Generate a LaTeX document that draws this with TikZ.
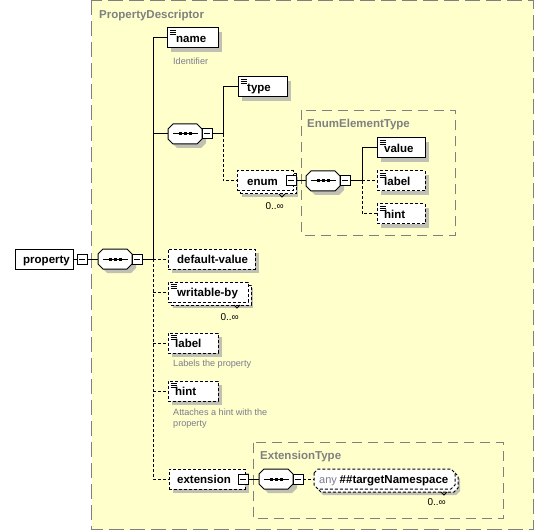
\documentclass[tikz,border=0pt]{standalone}
\usepackage{fontspec}
\setmainfont{Liberation Sans}
\usetikzlibrary{shadows,calc}
\definecolor{bgyel}{HTML}{FFFFCC}
\definecolor{shadowc}{HTML}{C0C0B4}
\definecolor{framec}{HTML}{808080}
\definecolor{notec}{HTML}{7C7C8C}
\tikzset{
  elbox/.style={draw=black, fill=white, line width=1pt, inner sep=0pt, outer sep=0pt, minimum height=20pt, anchor=north west},
  optbox/.style={elbox, dash pattern=on 3pt off 2pt},
  shad/.style={drop shadow={shadow xshift=4pt, shadow yshift=-4pt, fill=shadowc, opacity=1}},
  mshad/.style={drop shadow={shadow xshift=2pt, shadow yshift=-3pt, fill=shadowc, opacity=1}},
  docicon/.style={path picture={\draw[solid, line width=0.9pt]
      ([shift={(2.5pt,-2.5pt)}]path picture bounding box.north west) -- ++(6pt,0pt)
      ([shift={(2.5pt,-4.5pt)}]path picture bounding box.north west) -- ++(6pt,0pt)
      ([shift={(2.5pt,-6.5pt)}]path picture bounding box.north west) -- ++(6pt,0pt);}},
  minusbox/.style={draw=black, fill=white, line width=1pt, minimum size=10pt, inner sep=0pt, outer sep=0pt,
      path picture={\draw[solid, line width=1pt] ([xshift=2pt]path picture bounding box.west) -- ([xshift=-2pt]path picture bounding box.east);}},
  eltext/.style={anchor=base west, inner sep=0pt, font=\fontsize{11.5}{13}\selectfont\bfseries},
  typelabel/.style={anchor=base west, inner sep=0pt, text=framec, font=\fontsize{11.5}{13}\selectfont\bfseries},
  note/.style={anchor=base west, inner sep=0pt, text=notec, font=\fontsize{9.1}{11}\selectfont},
  mult/.style={anchor=base east, inner sep=0pt, font=\fontsize{10}{12}\selectfont},
  conn/.style={draw=black, line width=1pt},
  oconn/.style={conn, dash pattern=on 3pt off 2pt},
  outerframe/.style={draw=framec, line width=1pt, dash pattern=on 15pt off 6pt, fill=bgyel},
  innerframe/.style={draw=framec, line width=1pt, dash pattern=on 10pt off 6pt},
  seqc/.pic={
    \fill[shadowc, shift={(4,4)}] (-17,-5) -- (-12,-10) -- (12,-10) -- (17,-5) -- (17,5) -- (12,10) -- (-12,10) -- (-17,5) -- cycle;
    \filldraw[fill=white, draw=black, line width=1pt] (-17,-5) -- (-12,-10) -- (12,-10) -- (17,-5) -- (17,5) -- (12,10) -- (-12,10) -- (-17,5) -- cycle;
    \draw[line width=1pt] (-12,0) -- (13,0);
    \fill (-6.5,-1.5) rectangle ++(3,3);
    \fill (-1.5,-1.5) rectangle ++(3,3);
    \fill (3.5,-1.5) rectangle ++(3,3);
    \coordinate (-in) at (-17,0);
    \node[minusbox] (-minus) at (22,0) {};
  },
  anyshape/.pic={\path[pic actions] (0,4) -- (4,0) -- (137,0) -- (141,4) -- (141,16) -- (137,20) -- (4,20) -- (0,16) -- cycle;}
}
\begin{document}
\begin{tikzpicture}[x=1pt, y=-1pt]
\useasboundingbox (0,0) rectangle (536,532);
% frames
\path[outerframe] (91.5,0.5) rectangle (533.5,529.5);
\node[typelabel] (pdlabel) at (99,18.5) {PropertyDescriptor};
\path[innerframe] (301.5,110.5) rectangle (455.5,235.5);
\node[typelabel] (eetlabel) at (307,128) {EnumElementType};
\path[innerframe] (253.5,442.5) rectangle (503.5,518.5);
\node[typelabel] (etlabel) at (260,459.5) {ExtensionType};

% property
\node[elbox, minimum width=58pt] (property) at (15,249) {};
\node[eltext] (propertyt) at (23,263.5) {property};
\node[minusbox] (pm) at (82,259) {};
\pic (s1) at (115,259) {seqc};
\coordinate (j1) at (153,259);

% name
\node[elbox, shad, docicon, minimum width=51pt] (name) at (167,28) {};
\node[eltext] (namet) at (176,42.5) {name};
\node[note] (namedoc) at (173,64.5) {Identifier};

% inner sequence with type / enum
\pic (s2) at (185,134) {seqc};
\coordinate (j2) at (223,134);
\node[elbox, shad, docicon, minimum width=49pt] (type) at (238,77) {};
\node[eltext] (typet) at (247,91.5) {type};

\node[optbox, mshad, minimum width=56pt] (enumback) at (240,174) {};
\node[optbox, minimum width=56pt] (enum) at (237,171) {};
\node[eltext] (enumt) at (247,185.5) {enum};
\node[minusbox] (em) at (291,181) {};
\draw[line width=0.8pt] ($(enumback.south east)+(-17,0)$) -- ++(3,3) -- ++(3,-3);
\node[mult] (enummult) at (284,210) {0..∞};

% EnumElementType content
\pic (s3) at (323,181) {seqc};
\coordinate (j3) at (362,181);
\node[elbox, shad, docicon, minimum width=48pt] (value) at (377,138) {};
\node[eltext] (valuet) at (384,152.5) {value};
\node[optbox, shad, docicon, minimum width=48pt] (elabel) at (377,171) {};
\node[eltext] (elabelt) at (384,185.5) {label};
\node[optbox, shad, docicon, minimum width=48pt] (ehint) at (377,204) {};
\node[eltext] (ehintt) at (384,218.5) {hint};

% default-value
\node[optbox, shad, minimum width=87pt] (default) at (168,249) {};
\node[eltext] (defaultt) at (177,263.5) {default-value};

% writable-by
\node[optbox, mshad, minimum width=80pt] (writback) at (171,285) {};
\node[optbox, docicon, minimum width=80pt] (writable) at (168,282) {};
\node[eltext] (writablet) at (177,296.5) {writable-by};
\draw[line width=0.8pt] ($(writback.south east)+(-17,0)$) -- ++(3,3) -- ++(3,-3);
\node[mult] (writmult) at (239,320) {0..∞};

% label
\node[optbox, shad, docicon, minimum width=50pt] (mlabel) at (168,333) {};
\node[eltext] (mlabelt) at (175,347.5) {label};
\node[note] (mlabeldoc) at (173,366) {Labels the property};

% hint
\node[optbox, shad, docicon, minimum width=50pt] (mhint) at (168,381) {};
\node[eltext] (mhintt) at (175,395.5) {hint};
\node[note] (mhintdoca) at (173,415) {Attaches a hint with the};
\node[note] (mhintdocb) at (173,426) {property};

% extension
\node[optbox, shad, minimum width=76pt] (extension) at (169,469) {};
\node[eltext] (extensiont) at (177,483.5) {extension};
\node[minusbox] (xm) at (243,479) {};
\pic (s4) at (276,479) {seqc};

% any
\pic[fill=shadowc] (anyshadow) at (319,475) {anyshape};
\pic[draw=black, fill=white, line width=1pt, dash pattern=on 3pt off 2pt] (anyback) at (317,472) {anyshape};
\pic[draw=black, fill=white, line width=1pt, dash pattern=on 3pt off 2pt] (anyfront) at (314,469) {anyshape};
\coordinate (anyin) at (314,479);
\node[anchor=base west, inner sep=0pt] (anyt) at (319,483.5) {{\fontsize{11}{13}\selectfont\color{notec}any} {\fontsize{11.5}{13}\selectfont\bfseries \#\#targetNamespace}};
\draw[line width=0.8pt] (441,492) -- ++(3,3) -- ++(3,-3);
\node[mult] (anymult) at (446,505) {0..∞};

% connectors
\draw[conn] (property.east) -- (pm.west);
\draw[conn] (pm.east) -- (s1-in);
\draw[conn] (s1-minus.east) -- (j1);
\draw[conn] (j1) |- (name.west);
\draw[conn] (j1 |- s2-in) -- (s2-in);
\draw[oconn] (j1) -- (j1 |- extension.west) -- (extension.west);
\draw[oconn] (j1) -- (default.west);
\draw[oconn] (j1 |- writable.west) -- (writable.west);
\draw[oconn] (j1 |- mlabel.west) -- (mlabel.west);
\draw[oconn] (j1 |- mhint.west) -- (mhint.west);
\draw[conn] (s2-minus.east) -- (j2);
\draw[conn] (j2) |- (type.west);
\draw[oconn] (j2) |- (enum.west);
\draw[conn] (em.east) -- (s3-in);
\draw[conn] (s3-minus.east) -- (j3);
\draw[conn] (j3) |- (value.west);
\draw[oconn] (j3) -- (elabel.west);
\draw[oconn] (j3) |- (ehint.west);
\draw[conn] (xm.east) -- (s4-in);
\draw[oconn] (s4-minus.east) -- (anyin);
\end{tikzpicture}
\end{document}
